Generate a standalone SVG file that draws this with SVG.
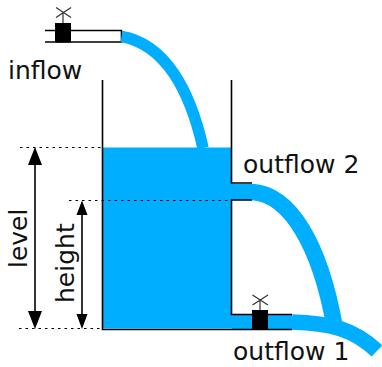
<svg xmlns="http://www.w3.org/2000/svg" width="382" height="367" viewBox="0 0 382 367">
<defs>
<style>
.l{fill:none;stroke:#000;stroke-width:1.6}
.d{fill:none;stroke:#000;stroke-width:1.2;stroke-dasharray:2.5 4}
.s{fill:none;stroke:#00aeff}
.t{font-family:"DejaVu Sans",sans-serif;font-size:25px;fill:#111}
.g{fill:none;stroke:#333;stroke-width:1.2}
.a{fill:none;stroke:#333;stroke-width:2}
</style>
</defs>
<g id="tank">
<rect x="103" y="147.500" width="129" height="181" fill="#00aeff"/>
<rect x="232" y="184" width="21" height="16" fill="#00aeff"/>
<rect x="232" y="314.500" width="60" height="15" fill="#00aeff"/>
<path class="l" d="M102.500 80V329.500H292M231.500 80V183H252M252 200H231.500V314.500H292"/>
</g>
<g id="inflow">
<rect x="71" y="30.500" width="50.500" height="11.500" fill="#fff"/>
<path class="l" d="M45 30.500H121.500V42H45"/>
<rect x="55" y="23" width="16" height="19.500" fill="#000"/>
<path class="g" d="M63 23V12.500M56 7.500L71 17.500M56 17.500L71 7.500"/>
<text class="t" x="8" y="79">inflow</text>
</g>
<g id="outflow1">
<rect x="252" y="310" width="16" height="19.500" fill="#000"/>
<path class="g" d="M260 310V300M252.500 295L268 305M252.500 305L268 295"/>
<text class="t" x="233" y="359.500">outflow 1</text>
</g>
<g id="outflow2">
<text class="t" x="243" y="173">outflow 2</text>
</g>
<g id="connectors">
<path class="s" stroke-width="11.500" d="M121.500 36.500C165 44 190 90 203 148"/>
<path class="s" stroke-width="16.500" d="M252 192C290 194 320 245 334.500 326"/>
<path class="s" stroke-width="15.500" d="M292 322C330 323 354 329 377 351"/>
<path class="d" d="M20 147.500H102M69 200.500H232M19 328.500H102"/>
<path class="a" d="M35 158V318M82 212V318"/>
<path fill="#000" d="M35 147L42 165H28ZM35 329L28 311H42ZM82 200.500L87.500 215H76.500ZM82 329L76.500 314H87.500Z"/>
</g>
<g id="labels">
<text class="t" transform="translate(27 268) rotate(-90)">level</text>
<text class="t" transform="translate(74 303) rotate(-90)">height</text>
</g>
</svg>
